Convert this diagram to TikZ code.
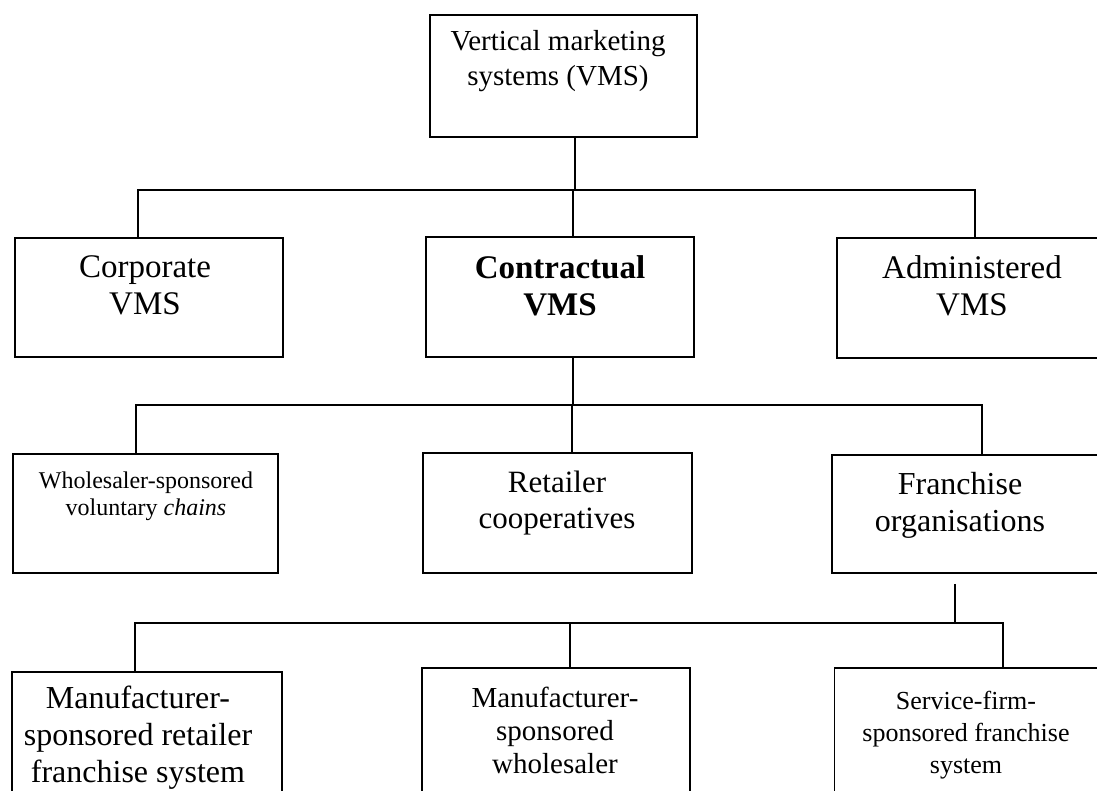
\documentclass[tikz,border=0pt]{standalone}
\usepackage{fontspec}
\setmainfont{Liberation Serif}
\begin{document}
\begin{tikzpicture}[x=1pt, y=-1pt,
  box/.style={draw, rectangle, line width=1.6pt, inner sep=0pt},
  lbl/.style={align=center, inner sep=0pt},
  link/.style={line width=1.5pt},
  fsz/.style n args={2}{font=\fontsize{#1}{#2}\selectfont},
  fszb/.style n args={2}{font=\fontsize{#1}{#2}\selectfont\bfseries}]
\clip (0,0) rectangle (1097,790);
\fill[white] (0,0) rectangle (1097,790);

% boxes
\node[box, minimum width=267, minimum height=122] (top)    at (563.5,76)  {};
\node[box, minimum width=268, minimum height=119] (corp)   at (149,297.5) {};
\node[box, minimum width=268, minimum height=120] (contr)  at (560,297)   {};
\node[box, minimum width=268, minimum height=120] (admin)  at (971,298)   {};
\node[box, minimum width=265, minimum height=119] (whole)  at (145.5,513.5) {};
\node[box, minimum width=269, minimum height=120] (retail) at (557.5,513) {};
\node[box, minimum width=268, minimum height=118] (fran)   at (966,514)   {};
\node[box, minimum width=270, minimum height=130] (mfrA)   at (147,737)   {};
\node[box, minimum width=268, minimum height=130] (mfrB)   at (556,733)   {};
\node[box, minimum width=265, minimum height=130] (serv)   at (967,733)   {};

% labels
\node[lbl, fsz={29}{35}] (topT) at (558,61) {Vertical marketing\\systems (VMS)};
\node[lbl, fsz={33}{37}] (corpT) at (145,285.5) {Corporate\\VMS};
\node[lbl, fszb={33}{37}] (contrT) at (560,285.5) {Contractual\\VMS};
\node[lbl, fsz={33}{37}] (adminT) at (972,285.5) {Administered\\VMS};
\node[lbl, fsz={24}{27}] (wholeT) at (146,496) {Wholesaler-sponsored\\voluntary \textit{chains}};
\node[lbl, fsz={31}{36}] (retailT) at (557,503) {Retailer\\cooperatives};
\node[lbl, fsz={32}{37}] (franT) at (960,505) {Franchise\\organisations};
\node[lbl, fsz={32}{37}] (mfrAT) at (138,737.5) {Manufacturer-\\sponsored retailer\\franchise system};
\node[lbl, fsz={29}{33}] (mfrBT) at (555,730.5) {Manufacturer-\\sponsored\\wholesaler};
\node[lbl, fsz={26}{32}] (servT) at (966,735.5) {Service-firm-\\sponsored franchise\\system};

% junction points of the connecting buses
\coordinate (j1) at (575,190);
\coordinate (j2) at (573,405);
\coordinate (j3) at (955,623);

% level 1
\draw[link] ([xshift=11.5]top.south) -- (j1);
\draw[link] ([xshift=-11]corp.north) |- (j1) -| ([xshift=4]admin.north);
\draw[link] ([xshift=13]contr.north) -- ([xshift=13]contr.north |- j1);

% level 2
\draw[link] ([xshift=13]contr.south) -- (j2);
\draw[link] ([xshift=-9.5]whole.north) |- (j2) -| ([xshift=16]fran.north);
\draw[link] ([xshift=14.5]retail.north) -- ([xshift=14.5]retail.north |- j2);

% level 3
\draw[link] ([xshift=-11,yshift=-10]fran.south) -- (j3);
\draw[link] ([xshift=-12]mfrA.north) |- (j3) -| ([xshift=36]serv.north);
\draw[link] ([xshift=14]mfrB.north) -- ([xshift=14]mfrB.north |- j3);
\end{tikzpicture}
\end{document}
